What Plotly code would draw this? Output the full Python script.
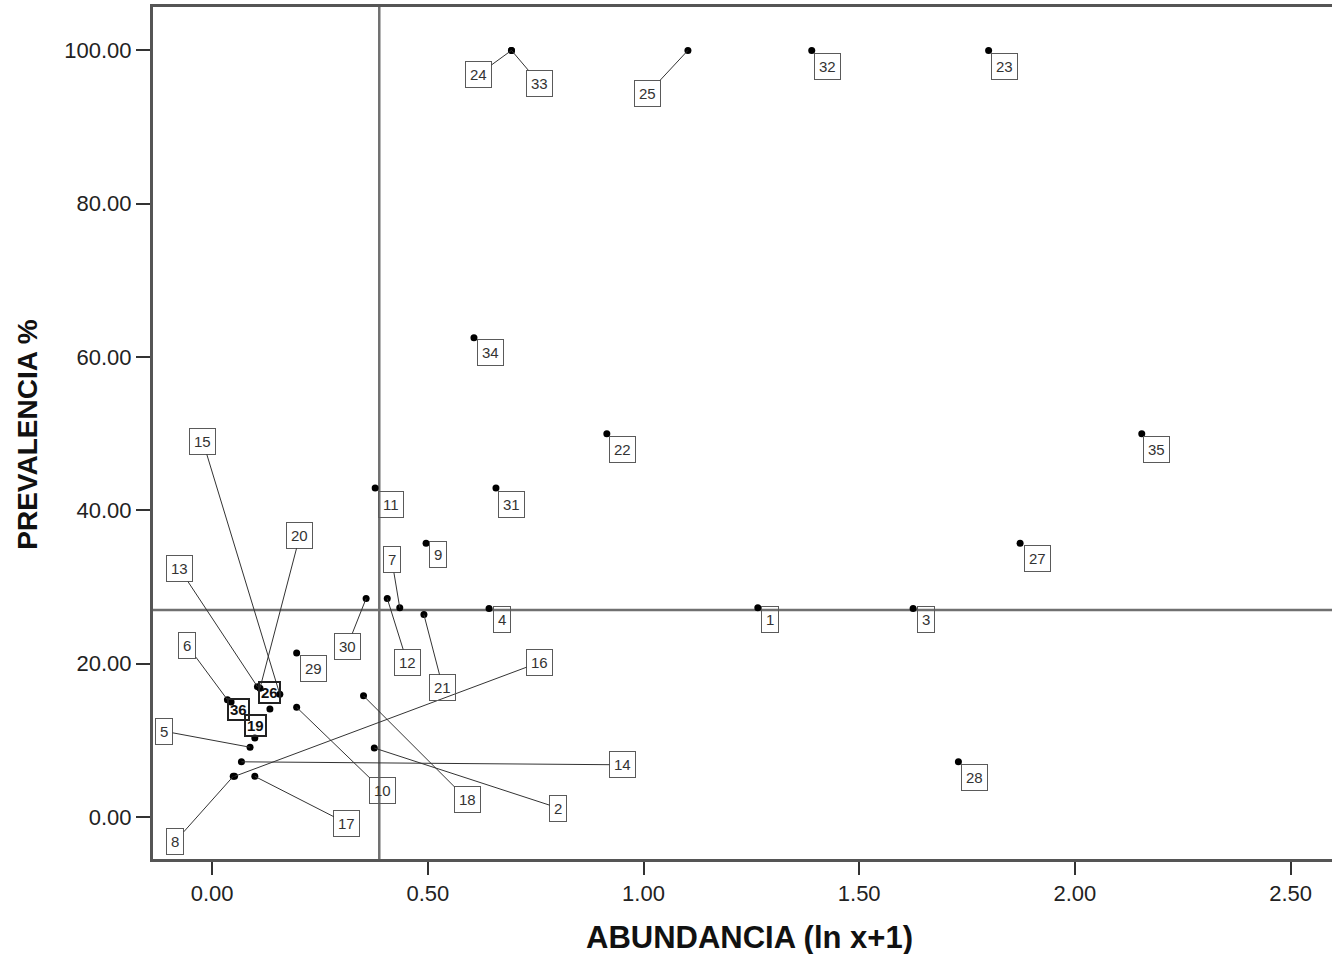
import plotly.graph_objects as go

# Case numbers (one per taxon)
case_id = list(range(1, 37))

# ABUNDANCIA (ln x+1)
abundance = [1.265, 0.376, 1.625, 0.642, 0.088, 0.0355, 0.435, 0.049, 0.496, 0.196,
             0.378, 0.406, 0.105, 0.068, 0.157, 0.052, 0.099, 0.351, 0.099, 0.111,
             0.491, 0.915, 1.800, 0.694, 1.103, 0.134, 1.873, 1.730, 0.196, 0.357,
             0.658, 1.390, 0.694, 0.607, 2.155, 0.044]

# PREVALENCIA %
prevalence = [27.3, 9.0, 27.2, 27.2, 9.1, 15.3, 27.3, 5.3, 35.7, 14.3,
              42.9, 28.5, 17.0, 7.2, 16.0, 5.3, 5.3, 15.8, 10.3, 16.8,
              26.4, 50.0, 100.0, 100.0, 100.0, 14.1, 35.7, 7.2, 21.4, 28.5,
              42.9, 100.0, 100.0, 62.5, 50.0, 15.0]

# Quadrant reference lines (means)
mean_abundance = 0.3875
mean_prevalence = 27.0

# Label placement: pixel offset of each case label from its point (right, down)
label_offset = {
    1: (12, 12), 2: (184, 60), 3: (13, 11), 4: (13, 11), 5: (-86, -16),
    6: (-40, -54), 7: (-8, -48), 8: (-58, 65), 9: (12, 11), 10: (86, 83),
    11: (16, 16), 12: (20, 64), 13: (-78, -118), 14: (381, 3), 15: (-77, -253),
    16: (305, -114), 17: (92, 47), 18: (104, 104), 19: (1, -13), 20: (40, -153),
    21: (19, 73), 22: (16, 16), 23: (16, 16), 24: (-33, 24), 25: (-40, 43),
    26: (0, -16), 27: (17, 15), 28: (16, 16), 29: (17, 16), 30: (-19, 48),
    31: (16, 16), 32: (16, 16), 33: (28, 33), 34: (17, 15), 35: (15, 16),
    36: (7, 7),
}
# Labels stacked in the crowded cluster use tighter, darker boxes
tight_labels = {19, 26, 36}

FONT = "Liberation Sans, Arial, sans-serif"

fig = go.Figure()
fig.add_trace(go.Scatter(
    x=abundance, y=prevalence, mode="markers",
    marker=dict(color="black", size=7),
    hoverinfo="skip", showlegend=False,
))

annotations = []
for cid, xv, yv in zip(case_id, abundance, prevalence):
    dx, dy = label_offset[cid]
    tight = cid in tight_labels
    base = dict(
        x=xv, y=yv, xref="x", yref="y",
        text=f"<b>{cid}</b>" if tight else str(cid),
        font=dict(family=FONT, size=15, color="#111" if tight else "#333"),
        bordercolor="#222" if tight else "#5a5a5a",
        borderwidth=2 if tight else 1,
        borderpad=1 if tight else 4,
        bgcolor="rgba(0,0,0,0)",
    )
    if abs(dx) > 18 or abs(dy) > 18:
        base.update(showarrow=True, ax=dx, ay=dy, axref="pixel", ayref="pixel",
                    arrowhead=0, arrowwidth=1, arrowcolor="#333",
                    standoff=0, startstandoff=0)
    else:
        base.update(showarrow=False, xshift=dx, yshift=-dy,
                    xanchor="center", yanchor="middle")
    annotations.append(base)

# Axis titles
annotations.append(dict(
    text="<b>ABUNDANCIA (ln x+1)</b>", xref="paper", yref="paper",
    x=0.506, y=0, xanchor="center", yanchor="middle", yshift=-78,
    showarrow=False, font=dict(family=FONT, size=31, color="#111"),
))
annotations.append(dict(
    text="<b>PREVALENCIA %</b>", xref="paper", yref="paper",
    x=0, y=0.498, xanchor="center", yanchor="middle", xshift=-125,
    textangle=-90, showarrow=False, font=dict(family=FONT, size=28, color="#111"),
))

shapes = [
    dict(type="line", xref="x", yref="paper", x0=mean_abundance, x1=mean_abundance,
         y0=0, y1=1, line=dict(color="#707070", width=2.5), layer="below"),
    dict(type="line", xref="paper", yref="y", x0=0, x1=1,
         y0=mean_prevalence, y1=mean_prevalence,
         line=dict(color="#707070", width=2.5), layer="below"),
]

fig.update_layout(
    width=1332, height=954,
    margin=dict(l=153, r=0, t=7, b=95),
    paper_bgcolor="white", plot_bgcolor="white",
    annotations=annotations, shapes=shapes,
    font=dict(family=FONT),
)
fig.update_xaxes(
    range=[-0.137, 2.596], tickvals=[0, 0.5, 1.0, 1.5, 2.0, 2.5], tickformat=".2f",
    showgrid=False, zeroline=False,
    showline=True, linecolor="#555", linewidth=3, mirror=True,
    ticks="outside", ticklen=13, tickwidth=2, tickcolor="#333",
    tickfont=dict(family=FONT, size=22, color="#222"),
)
fig.update_yaxes(
    range=[-5.48, 105.66], tickvals=[0, 20, 40, 60, 80, 100], tickformat=".2f",
    showgrid=False, zeroline=False,
    showline=True, linecolor="#555", linewidth=3, mirror=False,
    ticks="outside", ticklen=14, tickwidth=2, tickcolor="#333",
    tickfont=dict(family=FONT, size=22, color="#222"),
)

fig.write_html("out.html")
